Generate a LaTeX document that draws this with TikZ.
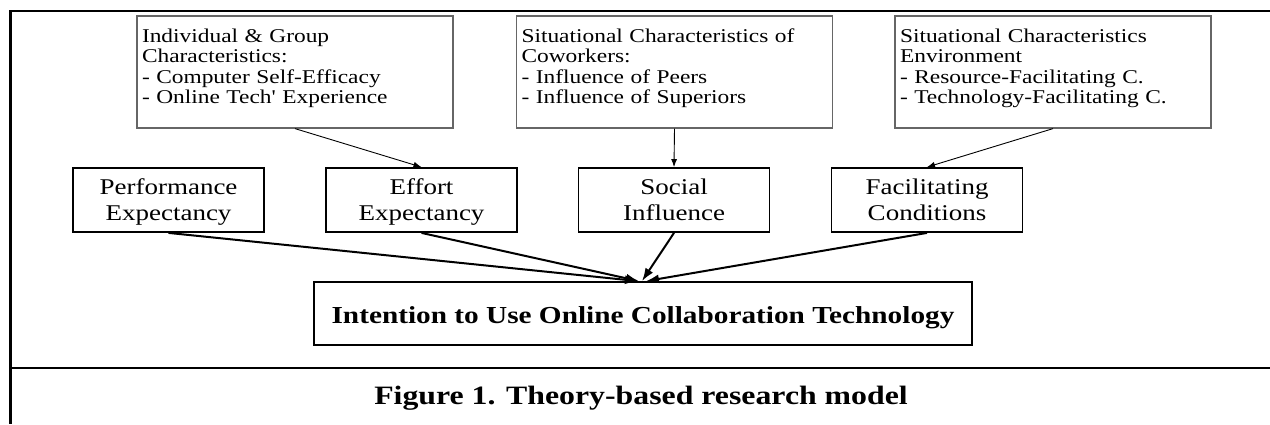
\documentclass[tikz,border=0pt]{standalone}
\usepackage{fontspec}
\setmainfont{Liberation Serif}
\newfontfamily\diafont[FakeStretch=1.2]{Liberation Serif}
\usetikzlibrary{arrows.meta}
\begin{document}
\begin{tikzpicture}[x=1pt,y=-1pt,
  frameline/.style={line width=2.7pt},
  topbox/.style={draw=black!60, line width=1.2pt, rectangle, minimum width=316pt,
    minimum height=112pt, inner sep=0pt, align=left, text width=306pt,
    font=\diafont\fontsize{19.5}{20.5}\selectfont},
  midbox/.style={draw=black, line width=1.8pt, rectangle, minimum width=191pt,
    minimum height=64pt, inner sep=0pt, align=center,
    font=\diafont\fontsize{22.5}{26}\selectfont},
  mainbox/.style={draw=black, line width=1.8pt, rectangle, minimum width=658pt,
    minimum height=63pt, inner sep=0pt, text height=19pt, text depth=0pt,
    font=\diafont\bfseries\fontsize{24.4}{28}\selectfont},
  captext/.style={inner sep=0pt, font=\diafont\bfseries\fontsize{26.5}{30}\selectfont},
  thinarrow/.style={-{Latex[length=8pt,width=6pt]}, line width=0.9pt},
  thickarrow/.style={-{Latex[length=13pt,width=9pt]}, line width=2pt}]
\useasboundingbox (0,0) rectangle (1270,424);
% frame
\draw[frameline] (9,11) -- (1270,11);
\draw[frameline] (10.5,10) -- (10.5,424);
\draw[frameline] (10,368) -- (1270,368);
% top boxes
\node[topbox] (igc) at (295,72) {Individual \& Group\\Characteristics:\\- Computer Self-Efficacy\\- Online Tech' Experience\\[-9pt]\mbox{}};
\node[topbox] (scc) at (674.5,72) {Situational Characteristics of\\Coworkers:\\- Influence of Peers\\- Influence of Superiors\\[-9pt]\mbox{}};
\node[topbox] (sce) at (1053,72) {Situational Characteristics\\Environment\\- Resource-Facilitating C.\\- Technology-Facilitating C.\\[-9pt]\mbox{}};
% middle boxes
\node[midbox] (pe) at (168.5,200) {Performance\\\smash{Expectancy}};
\node[midbox] (ee) at (421.5,200) {Effort\\\smash{Expectancy}};
\node[midbox] (si) at (674,200) {Social\\\smash{Influence}};
\node[midbox] (fc) at (927,200) {Facilitating\\\smash{Conditions}};
% main box
\node[mainbox] (iu) at (643,313.5) {Intention to Use Online Collaboration Technology};
% caption
\node[captext] (cap) at (641,398) {Figure 1. Theory-based research model};
% arrows
\draw[thinarrow] (igc.south) -- (ee.north);
\draw[thinarrow] (scc.south) -- (si.north);
\draw[thinarrow] (sce.south) -- (fc.north);
\draw[thickarrow] (pe.south) -- ([xshift=-5pt]iu.north);
\draw[thickarrow] (ee.south) -- ([xshift=-4pt]iu.north);
\draw[thickarrow] (si.south) -- ([xshift=-1pt]iu.north);
\draw[thickarrow] (fc.south) -- ([xshift=3pt]iu.north);
\end{tikzpicture}
\end{document}
